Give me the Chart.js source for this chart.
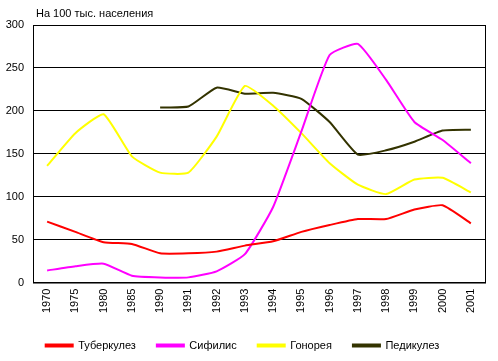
<!DOCTYPE html>
<html>
<head>
<meta charset="utf-8">
<script src="https://cdn.jsdelivr.net/npm/chart.js@4"></script>
<style>
  html, body { margin: 0; padding: 0; background: #fff; }
  #wrap { width: 498px; height: 361px; }
</style>
</head>
<body>
<div id="wrap"><canvas id="myChart" width="498" height="361"></canvas></div>
<script>
const years = ["1970", "1975", "1980", "1985", "1990", "1991", "1992", "1993", "1994", "1995", "1996", "1997", "1998", "1999", "2000", "2001"];
const tuberculosis = [71, 59, 47, 45, 34, 34, 36, 43, 48, 59, 67, 74, 74, 85, 90, 69];
const syphilis = [14, 19, 22, 8, 6, 6, 13, 33, 88, 176, 265, 278, 236, 187, 166, 139];
const gonorrhea = [136, 174, 196, 147, 128, 128, 170, 229, 206, 174, 139, 114, 103, 120, 122, 105];
const pediculosis = [null, null, null, null, 204, 205, 227, 220, 221, 214, 187, 149, 154, 164, 177, 178];
const seriesNames = ["Туберкулез", "Сифилис", "Гонорея", "Педикулез"];
const seriesColors = ["#ff0000", "#ff00ff", "#ffff00", "#333300"];
const yTicks = [0, 50, 100, 150, 200, 250, 300];

const font = { family: 'Liberation Sans, Arial, sans-serif', size: 11 };

// frame around the plot + unit label above it
const framePlugin = {
  id: 'frame',
  afterDraw(chart) {
    const { ctx, chartArea: a } = chart;
    ctx.save();
    ctx.strokeStyle = '#000';
    ctx.lineWidth = 1;
    ctx.strokeRect(a.left + 0.5, a.top + 0.5, a.right - a.left, a.bottom - a.top);
    ctx.fillStyle = '#000';
    ctx.font = '11px Liberation Sans, Arial, sans-serif';
    ctx.textBaseline = 'bottom';
    ctx.fillText('На 100 тыс. населения', a.left + 3, a.top - 6);
    ctx.restore();
  }
};

const allSeries = [tuberculosis, syphilis, gonorrhea, pediculosis];

new Chart(document.getElementById('myChart').getContext('2d'), {
  type: 'line',
  data: {
    labels: years,
    datasets: allSeries.map((d, i) => ({
      label: seriesNames[i],
      data: d,
      borderColor: seriesColors[i],
      backgroundColor: seriesColors[i],
      borderWidth: 2,
      pointRadius: 0,
      tension: 0.15,
      fill: false
    }))
  },
  options: {
    responsive: false,
    animation: false,
    maintainAspectRatio: false,
    layout: { padding: { top: 25, right: 13, left: 0, bottom: 0 } },
    scales: {
      x: {
        offset: true,
        grid: { display: false, drawTicks: false },
        border: { display: true, color: '#000' },
        ticks: { color: '#000', font: font, minRotation: 90, maxRotation: 90, padding: 6, autoSkip: false }
      },
      y: {
        min: 0,
        max: 300,
        afterBuildTicks: axis => { axis.ticks = yTicks.map(v => ({ value: v })); },
        afterFit: axis => { axis.width = 33; },
        grid: { color: '#000', drawTicks: false, lineWidth: 1 },
        border: { display: true, color: '#000' },
        ticks: { color: '#000', font: font, padding: 9 }
      }
    },
    plugins: {
      legend: {
        position: 'bottom',
        labels: { color: '#000', font: font, boxWidth: 27, boxHeight: 2, padding: 21 }
      },
      tooltip: { enabled: false }
    }
  },
  plugins: [framePlugin]
});
</script>
</body>
</html>
